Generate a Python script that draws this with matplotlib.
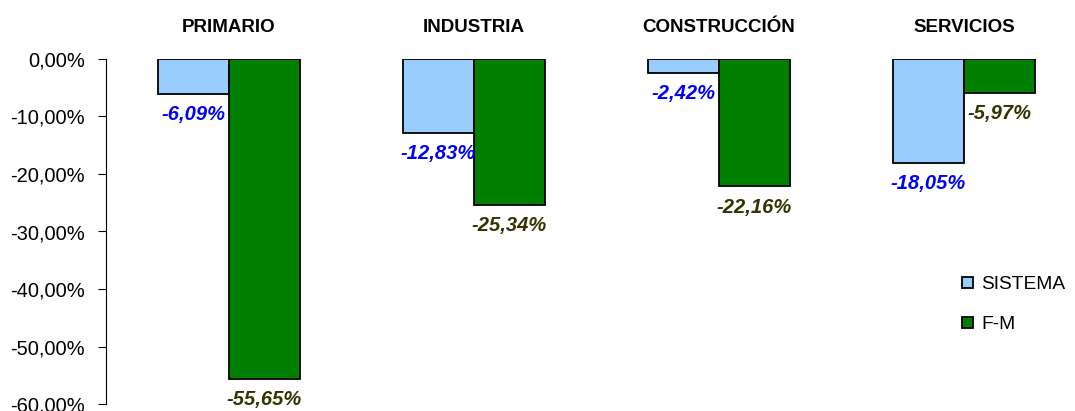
import matplotlib.pyplot as plt
import numpy as np

plt.rcParams['font.family'] = ['Liberation Sans', 'DejaVu Sans']

categorias = ["PRIMARIO", "INDUSTRIA", "CONSTRUCCIÓN", "SERVICIOS"]
sistema = [-6.09, -12.83, -2.42, -18.05]
fm = [-55.65, -25.34, -22.16, -5.97]
yticks = [0, -10, -20, -30, -40, -50, -60]

def fmt(v):
    return ("%.2f%%" % v).replace(".", ",")

fig = plt.figure(figsize=(10.75, 4.11), dpi=100)
ax = fig.add_axes([106/1075, 1 - 404/411, (1075-106)/1075, (404-59)/411])

x = np.arange(len(categorias))
w = 0.29
ax.bar(x - w/2, sistema, w, color="#99CCFF", edgecolor="black", linewidth=1.3, label="SISTEMA")
ax.bar(x + w/2, fm, w, color="#008000", edgecolor="black", linewidth=1.3, label="F-M")

for xi, v in zip(x, sistema):
    ax.annotate(fmt(v), (xi - w/2, v), xytext=(0, -8), textcoords="offset points",
                ha="center", va="top", color="#0000FF", fontsize=14.5,
                fontweight="bold", fontstyle="italic")
for xi, v in zip(x, fm):
    ax.annotate(fmt(v), (xi + w/2, v), xytext=(0, -8), textcoords="offset points",
                ha="center", va="top", color="#333300", fontsize=14.5,
                fontweight="bold", fontstyle="italic")

for xi, c in zip(x, categorias):
    ax.text(xi, 1.09, c, transform=ax.get_xaxis_transform(), ha="center", va="center",
            fontsize=13.5, fontweight="bold")

ax.set_xlim(-0.502, 3.453)
ax.set_ylim(-60, 0)
ax.set_yticks(yticks)
ax.set_yticklabels([fmt(t) for t in yticks], fontsize=14.5)
ax.set_xticks([])
for s in ["top", "right", "bottom"]:
    ax.spines[s].set_visible(False)
ax.tick_params(axis="y", length=6, direction="out", pad=9)

ax.legend(loc="upper left", bbox_to_anchor=(0.866, 0.42), frameon=False, fontsize=13.8,
          handlelength=0.55, handleheight=0.55, handletextpad=0.45, labelspacing=1.2)

fig.savefig("out.png", dpi=100)
